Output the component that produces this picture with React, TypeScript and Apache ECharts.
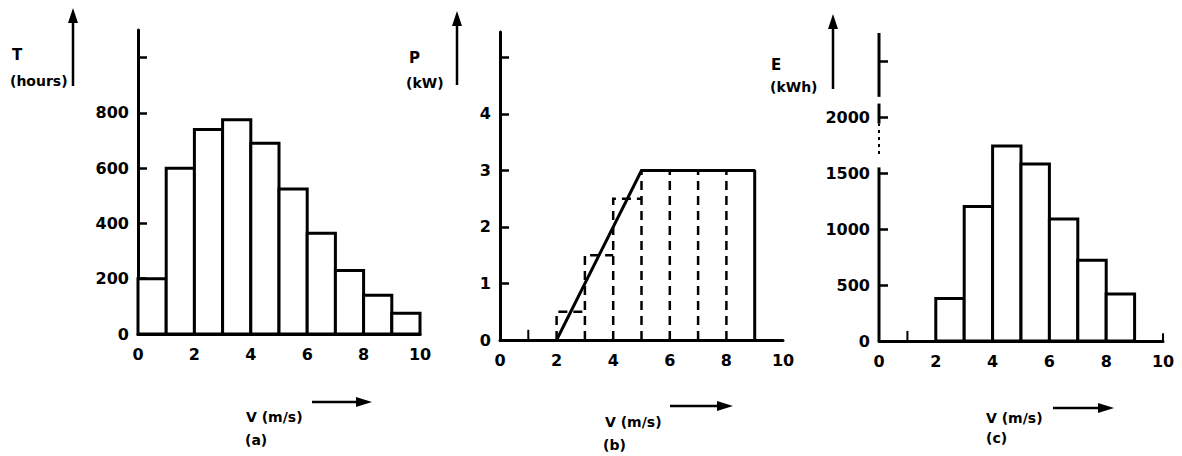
import React, { useEffect, useRef } from "react";
import * as echarts from "echarts";

// ---- data ----
const binStarts = [0, 1, 2, 3, 4, 5, 6, 7, 8, 9];
const hoursT = [200, 600, 740, 775, 690, 525, 365, 230, 140, 75];
const energyE = [0, 0, 380, 1200, 1740, 1580, 1090, 720, 420, 0];
const powerCurveV = [2, 5, 9, 9];
const powerCurveP = [0, 3, 3, 0];
const stepV = [2, 3, 4, 5, 6, 7, 8];
const stepP = [0.5, 1.5, 2.5, 3, 3, 3, 3];
const xTickLabels = [0, 2, 4, 6, 8, 10];
const tLabels = [0, 200, 400, 600, 800];
const tTicks = [0, 200, 400, 600, 800, 1000];
const pLabels = [0, 1, 2, 3, 4];
const pTicks = [0, 1, 2, 3, 4, 5];
const eLabels = [0, 500, 1000, 1500, 2000];
const eTicks = [0, 500, 1000, 1500, 2000, 2500];
const spikesB = [[1, 0.18]];
const spikesC = [[1, 90], [10, 70]];
const eAxisSolid = [[0, 1550], [1940, 2120], [2180, 2750]];
const eAxisDotted = [[1670, 1940]];

const FONT = '"DejaVu Sans", sans-serif';
const BLACK = "#000";
const plain = (v: number) => String(v);

function xAxisOf(gridIndex: number) {
  return {
    type: "value",
    gridIndex,
    min: 0,
    max: 10,
    axisLine: { show: true, onZero: false, lineStyle: { color: BLACK, width: 3 } },
    axisTick: { show: false },
    splitLine: { show: false },
    axisLabel: {
      customValues: xTickLabels,
      formatter: plain,
      margin: 12,
      color: BLACK,
      fontFamily: FONT,
      fontWeight: "bold",
      fontSize: 16,
    },
  };
}

function yAxisOf(gridIndex: number, max: number, labels: number[], ticks: number[], showLine = true) {
  return {
    type: "value",
    gridIndex,
    min: 0,
    max,
    axisLine: { show: showLine, lineStyle: { color: BLACK, width: 3 } },
    axisTick: { show: true, inside: true, length: 9, customValues: ticks, lineStyle: { color: BLACK, width: 2.5 } },
    splitLine: { show: false },
    axisLabel: {
      customValues: labels,
      formatter: plain,
      margin: 9,
      color: BLACK,
      fontFamily: FONT,
      fontWeight: "bold",
      fontSize: 16,
    },
  };
}

function barSeries(idx: number, values: number[]) {
  return {
    type: "custom",
    xAxisIndex: idx,
    yAxisIndex: idx,
    data: binStarts.map((v, i) => [v, values[i]]),
    encode: { x: 0, y: 1 },
    renderItem: (_p: any, api: any) => {
      const x0 = api.value(0);
      const y = api.value(1);
      if (!y) return { type: "group", children: [] };
      const a = api.coord([x0, y]);
      const b = api.coord([x0 + 1, 0]);
      return {
        type: "rect",
        shape: { x: a[0], y: a[1], width: b[0] - a[0], height: b[1] - a[1] },
        style: { fill: "#fff", stroke: BLACK, lineWidth: 3 },
      };
    },
  };
}

function spikeSeries(idx: number, pts: number[][]) {
  return {
    type: "custom",
    xAxisIndex: idx,
    yAxisIndex: idx,
    data: pts,
    encode: { x: 0, y: 1 },
    renderItem: (_p: any, api: any) => {
      const a = api.coord([api.value(0), 0]);
      const b = api.coord([api.value(0), api.value(1)]);
      return { type: "line", shape: { x1: a[0], y1: a[1], x2: b[0], y2: b[1] }, style: { stroke: BLACK, lineWidth: 2 } };
    },
  };
}

function axisSegSeries(segs: number[][], dashed: boolean) {
  return {
    type: "custom",
    xAxisIndex: 2,
    yAxisIndex: 2,
    data: segs.map((s) => [0, s[0], s[1]]),
    encode: { x: 0, y: [1, 2] },
    clip: false,
    renderItem: (_p: any, api: any) => {
      const a = api.coord([0, api.value(1)]);
      const b = api.coord([0, api.value(2)]);
      return {
        type: "line",
        shape: { x1: a[0], y1: a[1], x2: b[0], y2: b[1] },
        style: { stroke: BLACK, lineWidth: dashed ? 2 : 3, lineDash: dashed ? [3, 4] : null },
      };
    },
  };
}

function txt(x: number, y: number, text: string, size = 14) {
  return {
    type: "text",
    x,
    y,
    style: { text, fill: BLACK, font: `bold ${size}px ${FONT}`, verticalAlign: "middle", align: "left" },
  };
}

function vArrow(x: number, yBottom: number, yTip: number) {
  return [
    { type: "line", shape: { x1: x, y1: yBottom, x2: x, y2: yTip + 12 }, style: { stroke: BLACK, lineWidth: 2.5 } },
    { type: "polygon", shape: { points: [[x, yTip], [x - 5, yTip + 15], [x + 5, yTip + 15]] }, style: { fill: BLACK } },
  ];
}

function hArrow(y: number, xStart: number, xTip: number) {
  return [
    { type: "line", shape: { x1: xStart, y1: y, x2: xTip - 12, y2: y }, style: { stroke: BLACK, lineWidth: 2.5 } },
    { type: "polygon", shape: { points: [[xTip, y], [xTip - 16, y - 5], [xTip - 16, y + 5]] }, style: { fill: BLACK } },
  ];
}

export default function App() {
  const ref = useRef<HTMLDivElement>(null);
  useEffect(() => {
    if (!ref.current) return;
    const chart = echarts.init(ref.current, null, { renderer: "svg" });
    const option: any = {
      animation: false,
      backgroundColor: "#fff",
      grid: [
        { left: 138, top: 30, width: 282, height: 304 },
        { left: 500, top: 32, width: 283, height: 308 },
        { left: 879, top: 33, width: 284, height: 308 },
      ],
      xAxis: [xAxisOf(0), xAxisOf(1), xAxisOf(2)],
      yAxis: [
        yAxisOf(0, 1100, tLabels, tTicks),
        yAxisOf(1, 5.45, pLabels, pTicks),
        yAxisOf(2, 2750, eLabels, eTicks, false),
      ],
      series: [
        barSeries(0, hoursT),
        {
          type: "custom",
          xAxisIndex: 1,
          yAxisIndex: 1,
          data: stepV.map((v, i) => [v, stepP[i]]),
          encode: { x: 0, y: 1 },
          renderItem: (_p: any, api: any) => {
            const v = api.value(0);
            const p = api.value(1);
            const pts = [api.coord([v, 0]), api.coord([v, p]), api.coord([v + 1, p])];
            return {
              type: "polyline",
              shape: { points: pts },
              style: { stroke: BLACK, lineWidth: 2.5, fill: "none", lineDash: [9, 6] },
            };
          },
        },
        {
          type: "line",
          xAxisIndex: 1,
          yAxisIndex: 1,
          data: powerCurveV.map((v, i) => [v, powerCurveP[i]]),
          symbol: "none",
          lineStyle: { color: BLACK, width: 3 },
        },
        spikeSeries(1, spikesB),
        barSeries(2, energyE),
        spikeSeries(2, spikesC),
        axisSegSeries(eAxisSolid, false),
        axisSegSeries(eAxisDotted, true),
      ],
      graphic: [
        txt(12, 55, "T", 15),
        txt(10, 81, "(hours)"),
        txt(409, 58, "P", 15),
        txt(406, 83, "(kW)"),
        txt(771, 65, "E", 15),
        txt(770, 87, "(kWh)"),
        txt(246, 417, "V (m/s)"),
        txt(245, 440, "(a)"),
        txt(605, 422, "V (m/s)"),
        txt(603, 445, "(b)"),
        txt(986, 418, "V (m/s)"),
        txt(986, 438, "(c)"),
        ...vArrow(73, 86, 8),
        ...vArrow(457, 85, 11),
        ...vArrow(833, 89, 14),
        ...hArrow(402, 312, 372),
        ...hArrow(406, 670, 733),
        ...hArrow(408, 1053, 1114),
      ],
    };
    chart.setOption(option);
    return () => chart.dispose();
  }, []);
  return (
    <div
      ref={ref}
      style={{ position: "absolute", left: 0, top: 0, width: 1182, height: 456, background: "#fff" }}
    />
  );
}
